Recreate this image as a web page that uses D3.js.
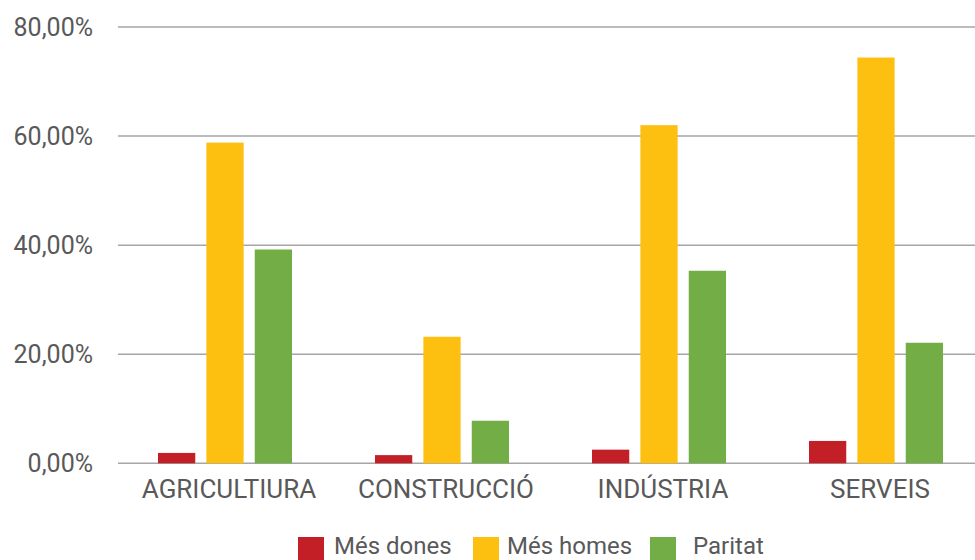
<!DOCTYPE html>
<html>
<head>
<meta charset="utf-8">
<script src="https://cdn.jsdelivr.net/npm/d3@7"></script>
<style>
  body { margin: 0; background: #fff; }
  text { font-family: Roboto, "DejaVu Sans", sans-serif; fill: #595959; }
</style>
</head>
<body>
<div id="chart"></div>
<script>
const categories = ["AGRICULTIURA", "CONSTRUCCIÓ", "INDÚSTRIA", "SERVEIS"];
const seriesNames = ["Més dones", "Més homes", "Paritat"];
const mesDones = [1.9, 1.5, 2.5, 4.1];
const mesHomes = [58.8, 23.2, 62.0, 74.4];
const paritat = [39.2, 7.8, 35.3, 22.1];
const yTicks = [0, 20, 40, 60, 80];

const colors = ["#C21F26", "#FDC010", "#72AD46"];
const series = [mesDones, mesHomes, paritat];

const width = 975, height = 560;
const margin = {top: 27, left: 116.5, bottom: 96};
const plotRight = 984.5;

const svg = d3.select("#chart").append("svg")
  .attr("width", width).attr("height", height);

const x = d3.scaleBand().domain(categories).range([margin.left, plotRight]);
const xSub = d3.scaleBand().domain(d3.range(series.length))
  .range([0, 134]).paddingInner(0.23);
const y = d3.scaleLinear().domain([0, 80]).range([height - margin.bottom - 0.7, margin.top]);

// grid lines
svg.append("g").selectAll("line").data(yTicks).join("line")
  .attr("x1", 118).attr("x2", width)
  .attr("y1", d => y(d)).attr("y2", d => y(d))
  .attr("stroke", "#a6a6a6").attr("stroke-width", 1.5);

// y labels
svg.append("g").selectAll("text").data(yTicks).join("text")
  .attr("x", 93).attr("y", d => y(d)).attr("dy", "0.36em")
  .attr("text-anchor", "end").style("font-size", "25px")
  .text(d => d3.format(".2f")(d).replace(".", ",") + "%");

// bars
const groups = svg.append("g").selectAll("g").data(categories).join("g")
  .attr("transform", c => `translate(${x(c) + (x.bandwidth() - 134) / 2},0)`);
groups.selectAll("rect")
  .data((c, i) => series.map((s, k) => ({k, v: s[i]})))
  .join("rect")
  .attr("x", d => xSub(d.k)).attr("width", xSub.bandwidth())
  .attr("y", d => y(d.v)).attr("height", d => y(0) - y(d.v))
  .attr("fill", d => colors[d.k]);

// category labels
svg.append("g").selectAll("text").data(categories).join("text")
  .attr("x", c => x(c) + x.bandwidth() / 2 + 4).attr("y", 489).attr("dy", "0.36em")
  .attr("text-anchor", "middle").style("font-size", "26px")
  .text(c => c);

// legend
const legendX = [298, 473, 650];
const legendTextX = [334, 507, 693];
const legend = svg.append("g").selectAll("g").data(seriesNames).join("g");
legend.append("rect")
  .attr("x", (d, i) => legendX[i]).attr("y", 537)
  .attr("width", 26).attr("height", 26)
  .attr("fill", (d, i) => colors[i]);
legend.append("text")
  .attr("x", (d, i) => legendTextX[i]).attr("y", 545).attr("dy", "0.36em")
  .style("font-size", "24px")
  .text(d => d);
</script>
</body>
</html>
